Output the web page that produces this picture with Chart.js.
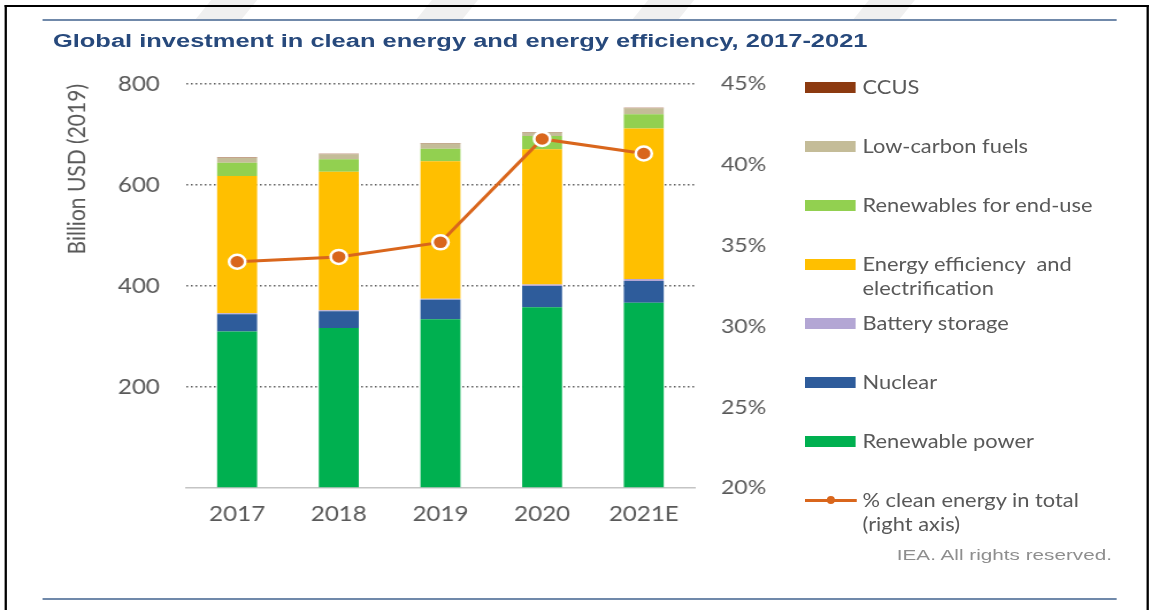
<!DOCTYPE html>
<html>
<head>
<meta charset="utf-8">
<script src="https://cdn.jsdelivr.net/npm/chart.js@4.4.0/dist/chart.umd.min.js"></script>
<style>
  html, body { margin: 0; padding: 0; background: #fff; overflow: hidden; }
  /* the whole figure is laid out narrow and widened horizontally */
  #page {
    position: absolute; left: 0; top: 0; width: 1003px; height: 610px;
    transform: scaleX(1.15); transform-origin: 0 0;
    font-family: Lato, "Open Sans", sans-serif; color: #595959;
  }
  .frame { position: absolute; background: #000; }
  .mark { position: absolute; top: -4px; width: 40px; height: 24px; background: #f0f0f0; transform: skewX(-35deg); }
  .rule { position: absolute; left: 37px; width: 934px; height: 2px; background: #7089aa; }
  #title {
    position: absolute; left: 46px; top: 31px; white-space: nowrap;
    font: bold 18px "Liberation Sans", Arial, sans-serif; color: #27497c;
    transform: scaleX(1.23); transform-origin: 0 50%;
  }
  #chartBox { position: absolute; left: 0; top: 0; width: 1003px; height: 610px; }
  #legend { position: absolute; left: 700px; top: 0; }
  .item { position: absolute; left: 0; white-space: pre; }
  .swatch { position: absolute; left: 0; width: 44px; height: 11px; }
  .text { position: absolute; left: 50px; font-size: 19px; line-height: 24px; top: -12.5px; color: #595959; }
  #footer {
    position: absolute; right: 36px; top: 546px; white-space: nowrap;
    font: 15px "Liberation Sans", Arial, sans-serif; color: #8e8e8e;
    transform: scaleX(1.2); transform-origin: 100% 50%;
  }
</style>
</head>
<body>
<div id="page">
  <div class="mark" style="left:178px"></div>
  <div class="mark" style="left:370px"></div>
  <div class="mark" style="left:558px"></div>
  <div class="mark" style="left:750px"></div>
  <div class="frame" style="left:4px; top:5px; width:995px; height:2px"></div>
  <div class="frame" style="left:4px; top:5px; width:2px; height:610px"></div>
  <div class="frame" style="left:997px; top:5px; width:2px; height:610px"></div>
  <div class="rule" style="top:19px"></div>
  <div id="title">Global investment in clean energy and energy efficiency, 2017-2021</div>
  <div id="chartBox"><canvas id="chart"></canvas></div>
  <div id="legend"></div>
  <div id="footer">IEA. All rights reserved.</div>
  <div class="rule" style="top:598px"></div>
</div>
<script>
// categories
const years = ['2017', '2018', '2019', '2020', '2021E'];

// investment by segment, billion USD (2019)
const renewablePower = [310, 317, 334, 358, 367];
const nuclear = [34, 33, 39, 42, 43];
const batteryStorage = [2, 2, 2, 3, 4];
const efficiency = [272, 274, 272, 268, 298];
const renewablesEndUse = [26, 25, 25, 26, 28];
const lowCarbonFuels = [10, 10, 10, 7, 12];
const ccus = [1, 1, 1, 1, 1];

// share of clean energy in total investment, %
const cleanShare = [34.0, 34.3, 35.2, 41.6, 40.7];

// axis ticks
const leftTicks = [0, 200, 400, 600, 800];
const rightTicks = [20, 25, 30, 35, 40, 45];

const segmentNames = ['Renewable power', 'Nuclear', 'Battery storage', 'Energy efficiency  and\nelectrification',
  'Renewables for end-use', 'Low-carbon fuels', 'CCUS'];
const segmentColors = ['#00b050', '#2e5c9b', '#b3a6d4', '#ffbf00', '#92d050', '#c4bc98', '#8c3a10'];
const segmentValues = [renewablePower, nuclear, batteryStorage, efficiency, renewablesEndUse, lowCarbonFuels, ccus];
const lineName = '% clean energy in total\n(right axis)';
const lineColor = '#d9661c';

const tickColor = '#595959';

const datasets = [{
  type: 'line',
  label: lineName,
  data: cleanShare,
  yAxisID: 'y1',
  order: 0,
  borderColor: lineColor,
  borderWidth: 3,
  pointRadius: 7,
  pointBackgroundColor: lineColor,
  pointBorderColor: '#ffffff',
  pointBorderWidth: 2.5,
  tension: 0
}];

segmentNames.forEach(function (name, i) {
  datasets.push({
    type: 'bar',
    label: name,
    data: segmentValues[i],
    backgroundColor: segmentColors[i],
    yAxisID: 'y',
    order: 1,
    stack: 'total',
    categoryPercentage: 1,
    barPercentage: 0.393
  });
});

new Chart(document.getElementById('chart'), {
  data: { labels: years, datasets: datasets },
  options: {
    responsive: true,
    maintainAspectRatio: false,
    animation: false,
    layout: { padding: { left: 0, top: 84, right: 309, bottom: 62 } },
    plugins: { legend: { display: false }, tooltip: { enabled: false } },
    scales: {
      x: {
        stacked: true,
        grid: { display: false },
        border: { display: true, color: '#c4c4c4', width: 1.5 },
        ticks: { color: tickColor, padding: 6, font: { family: 'Lato', size: 21 } },
        afterFit: function (scale) { scale.height = 60; }
      },
      y: {
        stacked: true,
        position: 'left',
        min: leftTicks[0],
        max: leftTicks[leftTicks.length - 1],
        afterBuildTicks: function (scale) { scale.ticks = leftTicks.map(v => ({ value: v })); },
        grid: {
          drawTicks: false,
          color: ctx => ctx.tick && ctx.tick.value === 0 ? 'rgba(0,0,0,0)' : '#5e5e5e',
          lineWidth: 1.5
        },
        border: { display: false, dash: [1.5, 2.5] },
        ticks: {
          color: tickColor, padding: 23, font: { family: 'Lato', size: 21 },
          callback: v => v === 0 ? '' : v
        },
        title: {
          display: true,
          text: 'Billion USD (2019)',
          align: 'end',
          color: tickColor,
          font: { family: 'Lato', size: 21 },
          padding: { top: 55, bottom: 0 }
        },
        afterFit: function (scale) { scale.width = 162; }
      },
      y1: {
        position: 'right',
        min: rightTicks[0],
        max: rightTicks[rightTicks.length - 1],
        afterBuildTicks: function (scale) { scale.ticks = rightTicks.map(v => ({ value: v })); },
        grid: { display: false, drawTicks: false },
        border: { display: false },
        ticks: {
          color: tickColor, padding: 23, font: { family: 'Lato', size: 20 },
          callback: v => v + '%'
        },
        afterFit: function (scale) { scale.width = 90; }
      }
    }
  }
});

// legend, top entry first
const legend = document.getElementById('legend');
const rowStep = 59;
const firstRow = 87;
const legendRows = [];
for (let i = segmentNames.length - 1; i >= 0; i--) {
  legendRows.push({ name: segmentNames[i], color: segmentColors[i], line: false });
}
legendRows.push({ name: lineName, color: lineColor, line: true });

legendRows.forEach(function (row, i) {
  const item = document.createElement('div');
  item.className = 'item';
  item.style.top = (firstRow + i * rowStep) + 'px';
  if (row.line) {
    item.innerHTML =
      '<div style="position:absolute;left:0;top:-1.5px;width:45px;height:3px;background:' + row.color + '"></div>' +
      '<div style="position:absolute;left:19px;top:-4px;width:7px;height:8px;border-radius:50%;background:' + row.color + '"></div>';
  } else {
    item.innerHTML = '<div class="swatch" style="top:-5.5px;background:' + row.color + '"></div>';
  }
  const text = document.createElement('div');
  text.className = 'text';
  text.textContent = row.name;
  item.appendChild(text);
  legend.appendChild(item);
});
</script>
</body>
</html>
